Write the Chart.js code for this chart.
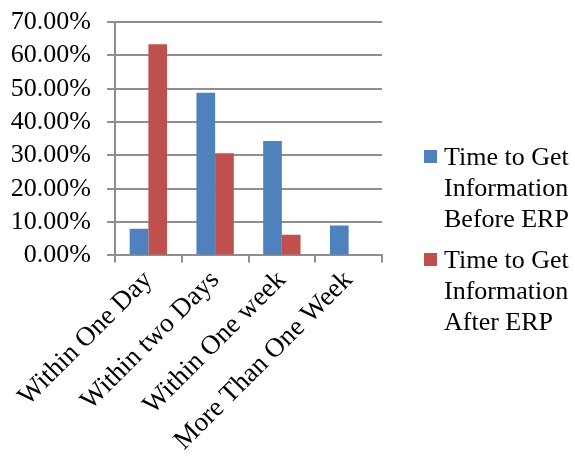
<!DOCTYPE html>
<html>
<head>
<meta charset="utf-8">
<script src="https://cdn.jsdelivr.net/npm/chart.js@4"></script>
<style>
  html, body { margin: 0; padding: 0; background: #fff; }
  #wrap { position: relative; width: 575px; height: 459px; }
</style>
</head>
<body>
<div id="wrap"><canvas id="c" width="575" height="459"></canvas></div>
<script>
const categories = ["Within One Day", "Within two Days", "Within One week", "More Than One Week"];
const beforeERP = [8.0, 48.8, 34.3, 9.0];
const afterERP = [63.3, 30.6, 6.2, 0];
const seriesNames = [["Time to Get", "Information", "Before ERP"], ["Time to Get", "Information", "After ERP"]];
const yTicks = [0, 10, 20, 30, 40, 50, 60, 70];

const FONT = "'Liberation Serif', 'Times New Roman', serif";
const gridColor = "#8f8f8f";

const legendPlugin = {
  id: "sideLegend",
  afterDraw(chart) {
    const ctx = chart.ctx;
    const items = chart.data.datasets;
    const startY = [165, 268];
    ctx.save();
    ctx.font = "26px " + FONT;
    ctx.textBaseline = "alphabetic";
    ctx.textAlign = "left";
    items.forEach((ds, i) => {
      const by = startY[i];
      ctx.fillStyle = ds.backgroundColor;
      ctx.fillRect(424, by - 15, 13, 13);
      ctx.fillStyle = "#000";
      ds.legendLines.forEach((line, j) => {
        ctx.fillText(line, 444, by + j * 31);
      });
    });
    ctx.restore();
  }
};

new Chart(document.getElementById("c"), {
  type: "bar",
  data: {
    labels: categories,
    datasets: [
      { label: seriesNames[0].join(" "), legendLines: seriesNames[0], data: beforeERP,
        backgroundColor: "#4F81BD", categoryPercentage: 0.56, barPercentage: 1.0 },
      { label: seriesNames[1].join(" "), legendLines: seriesNames[1], data: afterERP,
        backgroundColor: "#C0504D", categoryPercentage: 0.56, barPercentage: 1.0 }
    ]
  },
  options: {
    responsive: false,
    animation: false,
    layout: { padding: { left: 9, right: 193, top: 22, bottom: 0 } },
    plugins: {
      legend: { display: false },
      tooltip: { enabled: false }
    },
    scales: {
      x: {
        afterFit(s) { s.paddingLeft = 0; s.paddingRight = 0; },
        grid: { drawOnChartArea: false, drawTicks: true, tickLength: 7, color: gridColor, lineWidth: 2, offset: true },
        border: { display: true, color: gridColor, width: 2 },
        ticks: { color: "#000", font: { family: FONT, size: 27 }, minRotation: 45, maxRotation: 45, padding: 2, autoSkip: false }
      },
      y: {
        min: 0, max: 70,
        afterBuildTicks(axis) { axis.ticks = yTicks.map(v => ({ value: v })); },
        afterFit(s) { s.width = 106; s.paddingTop = 0; s.paddingBottom = 0; },
        grid: { color: gridColor, lineWidth: 2, tickLength: 8, drawTicks: true },
        border: { display: true, color: gridColor, width: 2 },
        ticks: { color: "#000", font: { family: FONT, size: 26 }, padding: 16, autoSkip: false,
          callback: v => v.toFixed(2) + "%" }
      }
    }
  },
  plugins: [legendPlugin]
});
</script>
</body>
</html>
